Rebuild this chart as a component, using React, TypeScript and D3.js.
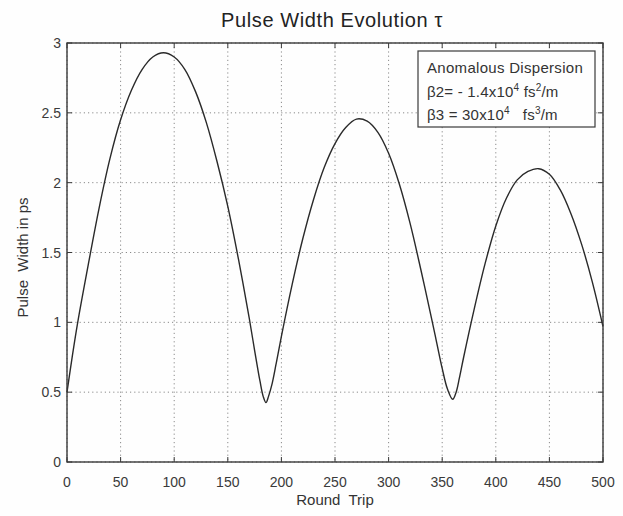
import React from 'react';
import * as d3 from 'd3';

const roundTrip = [
  0, 5, 10, 20, 30, 40, 50, 60, 70, 80, 90, 100, 110, 120, 130, 140, 150, 160, 170, 175, 180, 183, 185.6,
  188, 191, 195, 200, 210, 220, 230, 240, 250, 260, 270, 280, 290, 300, 310, 320, 330, 340, 345, 350, 355, 359.8,
  363, 366, 370, 380, 390, 400, 410, 420, 430, 440, 450, 460, 470, 480, 490, 500,
];
const pulseWidth = [
  0.5, 0.76, 1.0, 1.42, 1.82, 2.17, 2.45, 2.66, 2.81, 2.9, 2.93, 2.9, 2.81, 2.65, 2.43, 2.15, 1.83, 1.45, 1.03, 0.8, 0.58, 0.47, 0.425,
  0.47, 0.55, 0.7, 0.9, 1.27, 1.6, 1.88, 2.11, 2.28, 2.395, 2.455, 2.44, 2.36, 2.21, 1.99, 1.71, 1.38, 1.03, 0.85, 0.67, 0.52, 0.449,
  0.5, 0.6, 0.75, 1.1, 1.42, 1.69, 1.89, 2.02, 2.08, 2.1, 2.06, 1.95, 1.78, 1.56, 1.29, 0.97,
];
const xTicks = [0, 50, 100, 150, 200, 250, 300, 350, 400, 450, 500];
const yTicks = [0, 0.5, 1, 1.5, 2, 2.5, 3];
const yTickLabels = ['0', '0.5', '1', '1.5', '2', '2.5', '3'];

const titleText = 'Pulse Width Evolution τ';
const xLabel = 'Round  Trip';
const yLabel = 'Pulse  Width in ps';

const W = 623;
const H = 516;
const M = { left: 67, right: 603, top: 43, bottom: 462 };

export default function App() {
  const x = d3.scaleLinear().domain([0, 500]).range([M.left, M.right]);
  const y = d3.scaleLinear().domain([0, 3]).range([M.bottom, M.top]);
  const pts: [number, number][] = roundTrip.map((r, i) => [r, pulseWidth[i]]);
  const line = d3
    .line<[number, number]>()
    .x((d) => x(d[0]))
    .y((d) => y(d[1]))
    .curve(d3.curveCatmullRom.alpha(0.5));

  const font = "'Liberation Sans', Arial, sans-serif";
  const axisColor = '#3a3a3a';
  const tickLen = 5;

  return (
    <svg
      width={W}
      height={H}
      style={{ position: 'absolute', left: 0, top: 0, background: '#fefefe' }}
      fontFamily={font}
    >
      <rect x={0} y={0} width={W} height={H} fill="#fefefe" />
      {/* grid */}
      {xTicks.map((t) => (
        <line key={'gx' + t} x1={x(t)} x2={x(t)} y1={M.top} y2={M.bottom} stroke="#8a8a8a" strokeWidth={1} strokeDasharray="1.2,3" />
      ))}
      {yTicks.map((t) => (
        <line key={'gy' + t} x1={M.left} x2={M.right} y1={y(t)} y2={y(t)} stroke="#8a8a8a" strokeWidth={1} strokeDasharray="1.2,3" />
      ))}
      {/* ticks */}
      {xTicks.map((t) => (
        <g key={'tx' + t} stroke={axisColor} strokeWidth={1}>
          <line x1={x(t)} x2={x(t)} y1={M.bottom} y2={M.bottom - tickLen} />
          <line x1={x(t)} x2={x(t)} y1={M.top} y2={M.top + tickLen} />
        </g>
      ))}
      {yTicks.map((t) => (
        <g key={'ty' + t} stroke={axisColor} strokeWidth={1}>
          <line x1={M.left} x2={M.left + tickLen} y1={y(t)} y2={y(t)} />
          <line x1={M.right} x2={M.right - tickLen} y1={y(t)} y2={y(t)} />
        </g>
      ))}
      {/* curve */}
      <path d={line(pts) || ''} fill="none" stroke="#2a2a2a" strokeWidth={1.4} />
      {/* frame */}
      <rect x={M.left} y={M.top} width={M.right - M.left} height={M.bottom - M.top} fill="none" stroke={axisColor} strokeWidth={1.4} />
      {/* tick labels */}
      {xTicks.map((t) => (
        <text key={'lx' + t} x={x(t)} y={487} textAnchor="middle" fontSize={14} fill="#3a3a3a">
          {String(t)}
        </text>
      ))}
      {yTicks.map((t, i) => (
        <text key={'ly' + t} x={61} y={y(t)} dy="0.36em" textAnchor="end" fontSize={14} fill="#3a3a3a">
          {yTickLabels[i]}
        </text>
      ))}
      {/* axis labels */}
      <text x={(M.left + M.right) / 2} y={505} textAnchor="middle" fontSize={15} fill="#333" style={{ whiteSpace: 'pre' }}>
        {xLabel}
      </text>
      <text
        transform={`translate(28, ${(M.top + M.bottom) / 2 + 5}) rotate(-90)`}
        textAnchor="middle"
        fontSize={15}
        fill="#333"
        style={{ whiteSpace: 'pre' }}
      >
        {yLabel}
      </text>
      {/* title */}
      <text x={332} y={27} textAnchor="middle" fontSize={20} letterSpacing={0.6} fill="#222">
        {titleText}
      </text>
      {/* legend box */}
      <rect x={418} y={51} width={177} height={76} fill="#fefefe" stroke={axisColor} strokeWidth={1.2} />
      <text x={427} y={73} fontSize={15} letterSpacing={0.3} fill="#333">Anomalous Dispersion</text>
      <text x={427} y={97} fontSize={15} letterSpacing={0.2} fill="#333" style={{ whiteSpace: 'pre' }}>
        β2= - 1.4x10<tspan fontSize={10} dy={-6}>4</tspan>
        <tspan dy={6}> fs</tspan>
        <tspan fontSize={10} dy={-6}>2</tspan>
        <tspan dy={6}>/m</tspan>
      </text>
      <text x={427} y={120} fontSize={15} letterSpacing={0.2} fill="#333" style={{ whiteSpace: 'pre' }}>
        β3 = 30x10<tspan fontSize={10} dy={-6}>4</tspan>
        <tspan dy={6}>   fs</tspan>
        <tspan fontSize={10} dy={-6}>3</tspan>
        <tspan dy={6}>/m</tspan>
      </text>
    </svg>
  );
}
